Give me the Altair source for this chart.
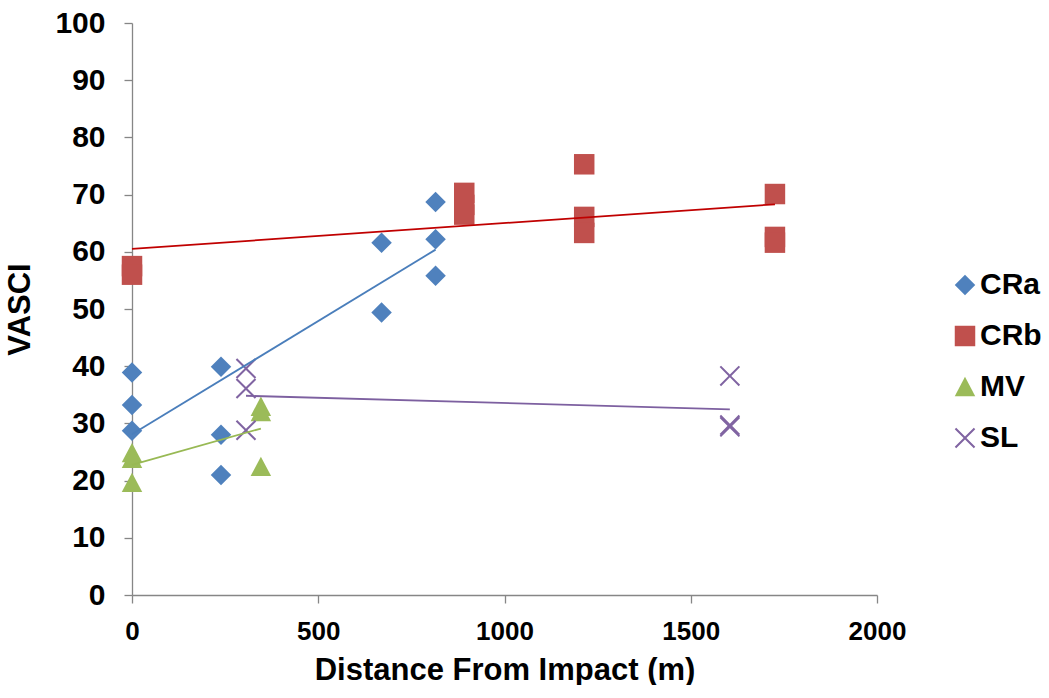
import altair as alt
import pandas as pd

# ---- data ----
series_names = ["CRa", "CRb", "MV", "SL"]

cra_x = [0, 0, 0, 239, 239, 239, 670, 670, 815, 815, 815]
cra_y = [38.9, 33.2, 28.7, 39.9, 28.0, 21.0, 61.6, 49.4, 68.7, 62.2, 55.8]

crb_x = [0, 0, 892, 892, 892, 1214, 1214, 1214, 1726, 1726, 1726]
crb_y = [57.5, 56.0, 70.3, 68.2, 66.5, 75.3, 66.1, 63.3, 70.1, 62.6, 61.6]

mv_x = [0, 0, 0, 346, 346, 346]
mv_y = [24.8, 23.8, 19.6, 32.9, 32.0, 22.4]

sl_x = [306, 306, 306, 1605, 1605, 1605]
sl_y = [39.6, 36.1, 28.8, 38.3, 29.7, 29.4]

x_ticks = [0, 500, 1000, 1500, 2000]
y_ticks = [0, 10, 20, 30, 40, 50, 60, 70, 80, 90, 100]

rows = []
for name, xs, ys in [("CRa", cra_x, cra_y), ("CRb", crb_x, crb_y),
                     ("MV", mv_x, mv_y), ("SL", sl_x, sl_y)]:
    for xv, yv in zip(xs, ys):
        rows.append({"series": name, "x": xv, "y": yv})
df = pd.DataFrame(rows)

point_colors = ["#4F81BD", "#C0504D", "#9BBB59", "#8064A2"]
line_colors = ["#4A7EBB", "#C00000", "#98B954", "#7D60A0"]
tri_path = "M0,-1L1,0.9L-1,0.9Z"
x_path = ("M0,-0.14L0.86,-1L1,-0.86L0.14,0L1,0.86L0.86,1L0,0.14"
          "L-0.86,1L-1,0.86L-0.14,0L-1,-0.86L-0.86,-1Z")
shapes = ["diamond", "square", tri_path, x_path]

FONT = "Liberation Sans"

x_enc = alt.X("x:Q", scale=alt.Scale(domain=[0, 2000], nice=False),
              axis=alt.Axis(values=x_ticks, format="d",
                            title="Distance From Impact (m)",
                            labelFontSize=26, labelFlush=False,
                            labelPadding=15, titlePadding=11))
y_enc = alt.Y("y:Q", scale=alt.Scale(domain=[0, 100], nice=False),
              axis=alt.Axis(values=y_ticks, format="d", title="VASCI",
                            labelFontSize=30,
                            labelPadding=19, titlePadding=18))

legend = alt.Legend(title=None, orient="none", legendX=818, legendY=247,
                    symbolSize=420, symbolStrokeWidth=0,
                    labelFontSize=30, labelFont=FONT,
                    labelFontWeight="bold", labelColor="black",
                    rowPadding=21, labelOffset=0, padding=0)

points = alt.Chart(df).mark_point(filled=True, opacity=1, size=420, strokeWidth=0).encode(
    x=x_enc,
    y=y_enc,
    color=alt.Color("series:N",
                    scale=alt.Scale(domain=series_names, range=point_colors),
                    legend=legend),
    shape=alt.Shape("series:N",
                    scale=alt.Scale(domain=series_names, range=shapes),
                    legend=legend),
)

lines = alt.Chart(df).transform_regression(
    "x", "y", groupby=["series"]
).mark_line(strokeWidth=1.8).encode(
    x="x:Q",
    y="y:Q",
    stroke=alt.Stroke("series:N",
                      scale=alt.Scale(domain=series_names, range=line_colors),
                      legend=None),
)

chart = alt.layer(points, lines).properties(
    width=745, height=572,
    padding={"left": 4, "top": 8, "right": 0, "bottom": 0},
).configure_view(stroke=None).configure_axis(
    grid=False,
    labelFont=FONT, labelFontWeight="bold", labelColor="black",
    titleFont=FONT, titleFontWeight="bold", titleFontSize=31, titleColor="black",
    domainColor="#868686", tickColor="#868686", tickSize=8, domainWidth=1.3,
    tickWidth=1.3,
)

chart.save("out.html", embed_options={"renderer": "svg", "actions": False})
